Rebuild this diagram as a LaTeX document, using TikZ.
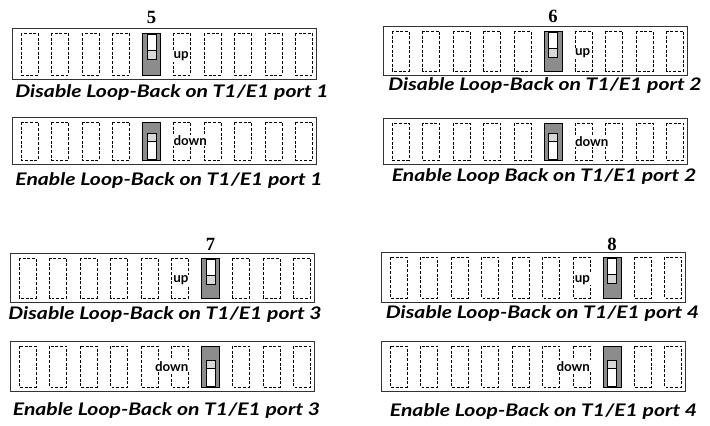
\documentclass[tikz,border=0pt]{standalone}
\usepackage{graphicx}
\usepackage{fontspec}
\newfontfamily\captionfont{Lato}
\newfontfamily\numberfont{Liberation Serif}

\definecolor{switchgray}{RGB}{140,140,140}
\definecolor{knobgray}{RGB}{215,215,215}

\newcommand{\widetext}[1]{\scalebox{1.22}[1]{#1}}

\tikzset{
  panel/.style={draw=black!80, line width=0.6pt},
  slot/.style={draw, line width=0.45pt, dash pattern=on 2.2pt off 1.3pt},
  switchbody/.style={draw, line width=0.6pt, fill=switchgray},
  knob/.style={draw, line width=0.45pt},
  caption/.style={font=\captionfont\bfseries\itshape\fontsize{13}{15}\selectfont, inner sep=0pt},
  number/.style={font=\numberfont\bfseries\fontsize{14}{16}\selectfont, inner sep=0pt},
  state/.style={font=\captionfont\bfseries\fontsize{10}{12}\selectfont, fill=white, inner sep=0.6pt},
}

% #1 name, #2 left, #3 top, #4 bottom, #5 switch number, #6 1 = up / 0 = down
\newcommand{\dipswitch}[6]{%
  \draw[panel] (#2,#3) rectangle (#2+304,#4);
  \foreach \k in {1,...,10}{%
    \ifnum\k=#5\relax\else
      \draw[slot] ({#2+9+30.5*(\k-1)},{#3+5}) rectangle ++(17,{#4-#3-9});
    \fi
  }%
  \pgfmathsetmacro{\swx}{#2+9+30.5*(#5-1)+8.5}
  \draw[switchbody] ({\swx-9},{#3+5}) rectangle ({\swx+9},{#4-4});
  \ifnum#6=1
    \draw[knob, fill=white] ({\swx-4.5},{#3+6}) rectangle ({\swx+4.5},{#3+22});
    \draw[knob, fill=knobgray] ({\swx-4.5},{#3+22}) rectangle ({\swx+4.5},{#3+31});
    \def\statetext{up}
  \else
    \draw[knob, fill=knobgray] ({\swx-4.5},{#4-31}) rectangle ({\swx+4.5},{#4-23});
    \draw[knob, fill=white] ({\swx-4.5},{#4-23}) rectangle ({\swx+4.5},{#4-5});
    \def\statetext{down}
  \fi
  \ifnum#5<7
    \node[state, anchor=base west] (#1) at ({\swx+21},{(#3+#4)/2+5}) {\statetext};
  \else
    \node[state, anchor=base east] (#1) at ({\swx-21},{(#3+#4)/2+5}) {\statetext};
  \fi
}

\begin{document}
\begin{tikzpicture}[x=0.75pt, y=-0.75pt]
  \useasboundingbox (0,0) rectangle (710,425);

  % port 1
  \node[number, anchor=base] (num5) at (151.5,23) {5};
  \dipswitch{dis1}{12}{28}{79}{5}{1}
  \node[caption] (cdis1) at (172,93) {\widetext{Disable Loop-Back on T1/E1 port 1}};
  \dipswitch{en1}{12}{117}{164}{5}{0}
  \node[caption] (cen1) at (169,180.5) {\widetext{Enable Loop-Back on T1/E1 port 1}};

  % port 2
  \node[number, anchor=base] (num6) at (553,22) {6};
  \dipswitch{dis2}{383}{26}{75}{6}{1}
  \node[caption] (cdis2) at (545,86) {\widetext{Disable Loop-Back on T1/E1 port 2}};
  \dipswitch{en2}{383}{118}{164}{6}{0}
  \node[caption] (cen2) at (544,177) {\widetext{Enable Loop Back on T1/E1 port 2}};

  % port 3
  \node[number, anchor=base] (num7) at (210.5,250) {7};
  \dipswitch{dis3}{10}{253}{302}{7}{1}
  \node[caption] (cdis3) at (165,314.5) {\widetext{Disable Loop-Back on T1/E1 port 3}};
  \dipswitch{en3}{10}{341}{391}{7}{0}
  \node[caption] (cen3) at (166.5,411) {\widetext{Enable Loop-Back on T1/E1 port 3}};

  % port 4
  \node[number, anchor=base] (num8) at (612,250) {8};
  \dipswitch{dis4}{381}{252}{302}{8}{1}
  \node[caption] (cdis4) at (542.5,313.5) {\widetext{Disable Loop-Back on T1/E1 port 4}};
  \dipswitch{en4}{381}{341}{391}{8}{0}
  \node[caption] (cen4) at (543.5,412) {\widetext{Enable Loop-Back on T1/E1 port 4}};
\end{tikzpicture}
\end{document}
